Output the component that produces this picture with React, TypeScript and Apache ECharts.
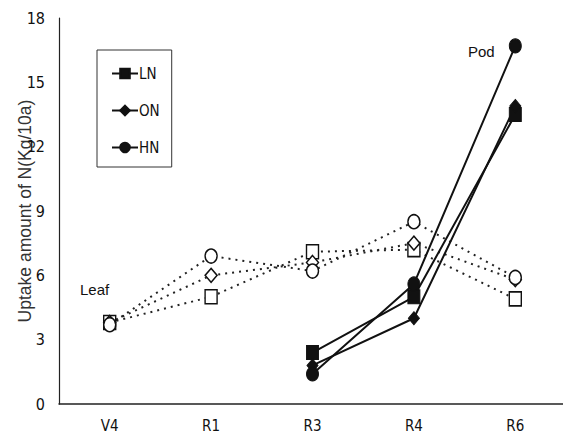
import React, { useEffect, useRef } from "react";
import * as echarts from "echarts";

const categories = ["V4", "R1", "R3", "R4", "R6"];
const yTicks = [0, 3, 6, 9, 12, 15, 18];
const leafLN = [3.8, 5.0, 7.1, 7.2, 4.9];
const leafON = [3.8, 6.0, 6.6, 7.5, 5.8];
const leafHN = [3.7, 6.9, 6.2, 8.5, 5.9];
const podLN = [null, null, 2.4, 5.0, 13.5];
const podON = [null, null, 1.8, 4.0, 13.9];
const podHN = [null, null, 1.4, 5.6, 16.7];
const seriesNames = ["LN", "ON", "HN"];

const NARROW = "'DejaVu Sans Condensed', 'Liberation Sans Narrow', 'Liberation Sans', sans-serif";
const SANS = "'Liberation Sans', Arial, sans-serif";

export default function App() {
  const ref = useRef<HTMLDivElement>(null);
  useEffect(() => {
    document.body.style.margin = "0";
    const chart = echarts.init(ref.current!, undefined, { renderer: "svg" });
    const leafStyle = (data: number[], symbol: string, name: string) => ({
      name,
      type: "line",
      data,
      symbol,
      symbolSize: [12, 14],
      showSymbol: true,
      lineStyle: { color: "#222", width: 2, type: [2, 5] },
      itemStyle: { color: "#fff", borderColor: "#111", borderWidth: 1.5 },
      z: 2,
    });
    const podStyle = (data: (number | null)[], symbol: string, name: string, size: number[]) => ({
      name,
      type: "line",
      data,
      symbol,
      symbolSize: size,
      showSymbol: true,
      connectNulls: false,
      lineStyle: { color: "#111", width: 2, type: "solid" },
      itemStyle: { color: "#111", borderColor: "#111", borderWidth: 1 },
      z: 3,
    });
    chart.setOption({
      animation: false,
      backgroundColor: "#fff",
      grid: { left: 59, top: 18, width: 507, height: 386, outerBoundsMode: "none" },
      legend: {
        data: seriesNames,
        orient: "vertical",
        left: 97,
        top: 50,
        padding: [16, 12, 12, 14],
        itemGap: 22,
        itemWidth: 26,
        itemHeight: 12,
        borderColor: "#333",
        borderWidth: 1,
        textStyle: { fontFamily: NARROW, fontSize: 15, color: "#111", padding: [0, 0, 0, -4] },
      },
      xAxis: {
        type: "category",
        data: categories,
        boundaryGap: true,
        axisLine: { lineStyle: { color: "#222", width: 1.5 } },
        axisTick: { show: false },
        axisLabel: { fontFamily: NARROW, fontSize: 15, color: "#111", margin: 14 },
      },
      yAxis: {
        type: "value",
        min: 0,
        max: 18,
        interval: 3,
        name: "Uptake amount of N(Kg/10a)",
        nameLocation: "middle",
        nameGap: 25,
        nameMoveOverlap: false,
        nameTextStyle: { fontFamily: SANS, fontSize: 17.5, color: "#333" },
        axisLine: { show: true, lineStyle: { color: "#222", width: 1.2 } },
        axisTick: { show: false },
        splitLine: { show: false },
        axisLabel: {
          fontFamily: NARROW,
          fontSize: 16,
          color: "#111",
          margin: 14,
          formatter: (v: number) => (yTicks.includes(v) ? String(v) : ""),
        },
      },
      graphic: [
        { type: "text", left: 80, top: 282, style: { text: "Leaf", font: `15px ${SANS}`, fill: "#111" } },
        { type: "text", left: 468, top: 44, style: { text: "Pod", font: `15px ${SANS}`, fill: "#111" } },
      ],
      series: [
        leafStyle(leafLN, "rect", "Leaf LN"),
        leafStyle(leafON, "diamond", "Leaf ON"),
        leafStyle(leafHN, "circle", "Leaf HN"),
        podStyle(podLN, "rect", "LN", [12, 14]),
        podStyle(podON, "diamond", "ON", [11, 13]),
        podStyle(podHN, "circle", "HN", [12, 14]),
      ],
    });
    return () => chart.dispose();
  }, []);
  return <div ref={ref} style={{ width: 563, height: 443 }} />;
}
